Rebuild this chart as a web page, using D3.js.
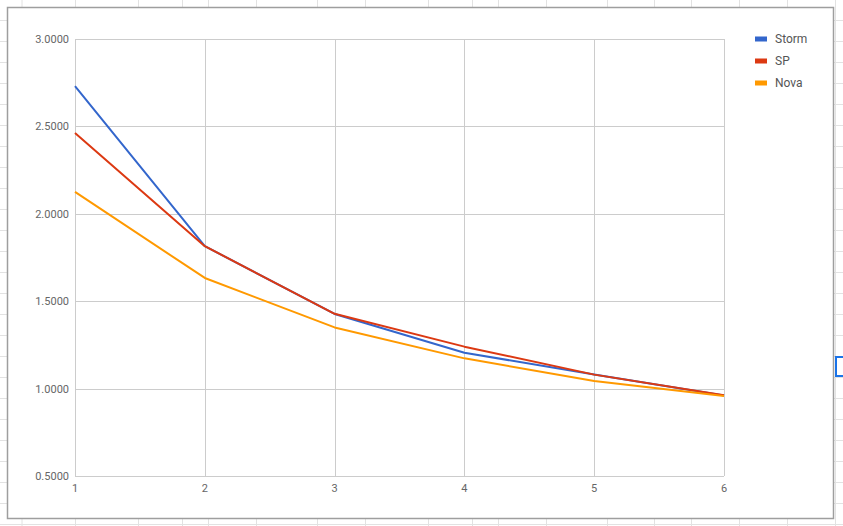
<!DOCTYPE html>
<html>
<head>
<meta charset="utf-8">
<script src="https://cdn.jsdelivr.net/npm/d3@7"></script>
<style>
html,body{margin:0;padding:0;background:#fff;}
svg{display:block;font-family:Roboto, "Noto Sans", Arial, sans-serif;}
</style>
</head>
<body>
<svg id="c" width="843" height="526"></svg>
<script>
const categories = [1, 2, 3, 4, 5, 6];
const storm = [2.731, 1.815, 1.427, 1.205, 1.081, 0.960];
const sp    = [2.462, 1.815, 1.428, 1.240, 1.080, 0.962];
const nova  = [2.125, 1.633, 1.350, 1.173, 1.043, 0.957];
const seriesNames = ["Storm", "SP", "Nova"];
const seriesColors = ["#3366cc", "#dc3912", "#ff9900"];
const yTicks = [0.5, 1.0, 1.5, 2.0, 2.5, 3.0];
const sheetCols = [22, 75.5, 138.5, 182.5, 208.5, 256.5, 317.5, 365.5, 428.5, 472.5, 498.5, 546.5, 607.5, 654.5, 691.5, 739.5, 787.5, 835.5];

const svg = d3.select("#c");
const W = 843, H = 526;

// spreadsheet background grid
const bg = svg.append("g");
const rows = d3.range(20.5, H, 21);
bg.selectAll("line.r").data(rows).enter().append("line")
  .attr("x1", 0).attr("x2", W).attr("y1", d => d).attr("y2", d => d)
  .attr("stroke", "#e2e2e2").attr("stroke-width", 1);
bg.selectAll("line.c").data(sheetCols).enter().append("line")
  .attr("y1", 0).attr("y2", H).attr("x1", d => d).attr("x2", d => d)
  .attr("stroke", "#e2e2e2").attr("stroke-width", 1);

// selected cell bracket
svg.append("path")
  .attr("d", "M843,357 L836,357 L836,376 L843,376")
  .attr("fill", "none").attr("stroke", "#1a73e8").attr("stroke-width", 2);

// chart box
svg.append("rect").attr("x", 7.5).attr("y", 7.5).attr("width", 826).attr("height", 511)
  .attr("fill", "#fff").attr("stroke", "#9e9e9e").attr("stroke-width", 1.5);

const x = d3.scaleLinear().domain([1, 6]).range([75, 724]);
const y = d3.scaleLinear().domain([0.5, 3.0]).range([476, 39]);

const g = svg.append("g");
// horizontal gridlines
g.selectAll("line.hy").data(yTicks).enter().append("line")
  .attr("x1", x(1)).attr("x2", x(6))
  .attr("y1", d => Math.round(y(d)) + 0.5).attr("y2", d => Math.round(y(d)) + 0.5)
  .attr("stroke", "#cccccc");
g.selectAll("line.vx").data(categories).enter().append("line")
  .attr("y1", y(3.0)).attr("y2", y(0.5))
  .attr("x1", d => Math.round(x(d)) + 0.5).attr("x2", d => Math.round(x(d)) + 0.5)
  .attr("stroke", "#cccccc");

// y labels
g.selectAll("text.yl").data(yTicks).enter().append("text")
  .attr("x", 69).attr("y", d => y(d) + 4)
  .attr("text-anchor", "end").attr("font-size", 11).attr("fill", "#666")
  .text(d => d.toFixed(4));
// x labels
g.selectAll("text.xl").data(categories).enter().append("text")
  .attr("x", d => x(d)).attr("y", 492)
  .attr("text-anchor", "middle").attr("font-size", 11).attr("fill", "#666")
  .text(d => d);

const all = [storm, sp, nova];
const line = d3.line().x((d, i) => x(categories[i])).y(d => y(d));
all.forEach((vals, k) => {
  g.append("path").datum(vals).attr("d", line)
    .attr("fill", "none").attr("stroke", seriesColors[k]).attr("stroke-width", 2)
    .attr("stroke-linejoin", "round");
});

// legend
const lg = svg.append("g");
seriesNames.forEach((n, k) => {
  const yy = 39 + k * 22;
  lg.append("rect").attr("x", 755).attr("y", yy - 2.5).attr("width", 12).attr("height", 5)
    .attr("fill", seriesColors[k]);
  lg.append("text").attr("x", 775).attr("y", yy + 4).attr("font-size", 12).attr("fill", "#555")
    .text(n);
});
</script>
</body>
</html>
